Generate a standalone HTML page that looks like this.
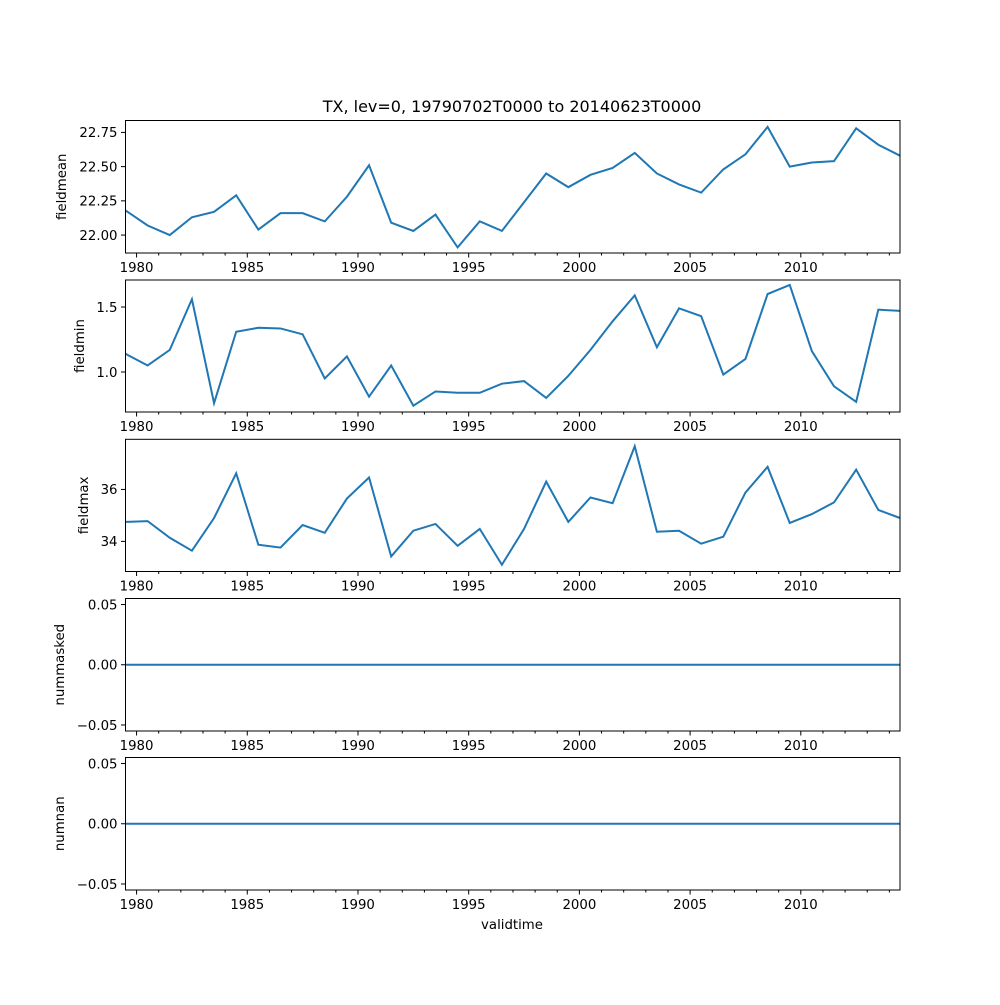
<!DOCTYPE html>
<html><head><meta charset="utf-8"><style>
body{margin:0;background:#fff}
svg text{font-family:"DejaVu Sans","Liberation Sans",sans-serif;fill:#000}
</style></head><body>
<svg id="fig" width="1000" height="1000" xmlns="http://www.w3.org/2000/svg"></svg>
<script>
const years=[1979.5,1980.5,1981.5,1982.5,1983.5,1984.5,1985.5,1986.5,1987.5,1988.5,1989.5,1990.5,1991.5,1992.5,1993.5,1994.5,1995.5,1996.5,1997.5,1998.5,1999.5,2000.5,2001.5,2002.5,2003.5,2004.5,2005.5,2006.5,2007.5,2008.5,2009.5,2010.5,2011.5,2012.5,2013.5,2014.48];
const fieldmean=[22.18,22.07,22.00,22.13,22.17,22.29,22.04,22.16,22.16,22.10,22.28,22.51,22.09,22.03,22.15,21.91,22.10,22.03,22.24,22.45,22.35,22.44,22.49,22.60,22.45,22.37,22.31,22.48,22.59,22.79,22.50,22.53,22.54,22.78,22.66,22.58];
const fieldmin=[1.14,1.05,1.17,1.56,0.76,1.31,1.34,1.335,1.29,0.95,1.12,0.81,1.05,0.74,0.85,0.84,0.84,0.91,0.93,0.80,0.97,1.17,1.39,1.59,1.19,1.49,1.43,0.98,1.10,1.60,1.67,1.16,0.89,0.77,1.48,1.47];
const fieldmax=[34.75,34.78,34.14,33.64,34.90,36.62,33.87,33.76,34.63,34.33,35.65,36.46,33.42,34.41,34.67,33.83,34.48,33.10,34.48,36.30,34.75,35.69,35.47,37.66,34.37,34.41,33.91,34.18,35.88,36.87,34.71,35.05,35.50,36.76,35.21,34.90];
const nummasked=years.map(()=>0);
const numnan=years.map(()=>0);
const xTicks=[1980,1985,1990,1995,2000,2005,2010];
const fmt2=v=>(v<0?'\u2212':'')+Math.abs(v).toFixed(2);
const panels=[
 {name:'fieldmean',vals:fieldmean,top:120.5,bot:253,ymin:21.869,ymax:22.837,ticks:[22.00,22.25,22.50,22.75],fmt:v=>v.toFixed(2)},
 {name:'fieldmin',vals:fieldmin,top:280,bot:412,ymin:0.692,ymax:1.708,ticks:[1.0,1.5],fmt:v=>v.toFixed(1)},
 {name:'fieldmax',vals:fieldmax,top:439.3,bot:571.5,ymin:32.84,ymax:37.93,ticks:[34,36],fmt:v=>String(v)},
 {name:'nummasked',vals:nummasked,top:598.5,bot:731,ymin:-0.055,ymax:0.055,ticks:[-0.05,0,0.05],fmt:fmt2},
 {name:'numnan',vals:numnan,top:757.5,bot:890,ymin:-0.055,ymax:0.055,ticks:[-0.05,0,0.05],fmt:fmt2}
];
const L=125.5,R=900,XMIN=1979.5,XMAX=2014.48;
const sx=v=>L+(v-XMIN)/(XMAX-XMIN)*(R-L);
const svg=document.getElementById('fig');
const NS='http://www.w3.org/2000/svg';
function mk(tag,attrs,parent){const e=document.createElementNS(NS,tag);for(const k in attrs)e.setAttribute(k,attrs[k]);(parent||svg).appendChild(e);return e;}
const title=mk('text',{x:512,y:112,'text-anchor':'middle','font-size':16});
title.textContent='TX, lev=0, 19790702T0000 to 20140623T0000';


panels.forEach(p=>{
 const g=mk('g',{});
 
 
 const sy=v=>p.bot-(v-p.ymin)/(p.ymax-p.ymin)*(p.bot-p.top);
 const d=p.vals.map((v,i)=>(i?'L':'M')+sx(years[i]).toFixed(2)+','+sy(v).toFixed(2)).join('');
 const cp='c'+p.name;
 const cl=mk('clipPath',{id:cp},g);mk('rect',{x:L,y:p.top,width:R-L,height:p.bot-p.top},cl);
 const line=mk('path',{d:d,fill:'none',stroke:'#1f77b4','stroke-width':2,'clip-path':'url(#'+cp+')'},g);
 
 
 const frame=mk('rect',{x:L,y:p.top,width:R-L,height:p.bot-p.top,fill:'none',stroke:'#000','stroke-width':1},g);
 
 
 for(let y=1980;y<=2014;y++){
  const major=xTicks.includes(y);const x=sx(y);
  mk('line',{x1:x,x2:x,y1:p.bot,y2:p.bot+(major?4.5:2.5),stroke:'#000','stroke-width':1},g);
  if(major){const t=mk('text',{x:x,y:p.bot+19,'text-anchor':'middle','font-size':13.3},g);t.textContent=y;
   
   }
 }
 p.ticks.forEach(v=>{const y=sy(v);
  mk('line',{x1:L-4.5,x2:L,y1:y,y2:y,stroke:'#000','stroke-width':1},g);
  const t=mk('text',{x:L-8,y:y+4.8,'text-anchor':'end','font-size':13.3},g);t.textContent=p.fmt(v);
  
  });
 const ylx=p.name.startsWith('num')?64:(p.name==='fieldmean'?66:(p.name==='fieldmin'?84:88));
 const yl=mk('text',{x:0,y:0,'text-anchor':'middle','font-size':13.3,transform:'translate('+ylx+','+((p.top+p.bot)/2)+') rotate(-90)'},g);
 yl.textContent=p.name;
 
 
});
const xl=mk('text',{x:512,y:929,'text-anchor':'middle','font-size':13.3});
xl.textContent='validtime';


</script>
</body></html>
